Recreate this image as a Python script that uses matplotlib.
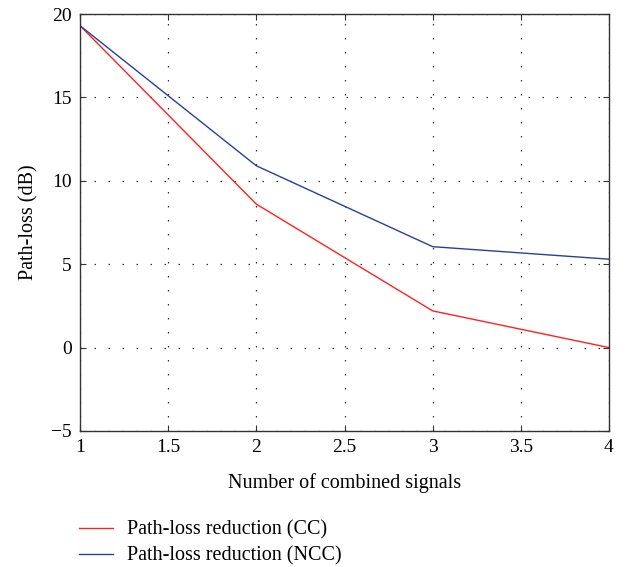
import numpy as np
import matplotlib.pyplot as plt

plt.rcParams['font.family'] = ['Liberation Serif', 'DejaVu Serif']

# Data
n_signals = [1, 2, 3, 4]
loss_cc = [19.3, 8.6, 2.2, 0.0]
loss_ncc = [19.3, 10.9, 6.05, 5.3]

fig = plt.figure(figsize=(6.32, 5.67), dpi=100)
ax = fig.add_axes([0.1266, 0.2399, 0.8370, 0.7354])

l1, = ax.plot(n_signals, loss_cc, color='#ff2020', lw=1.0, label='Path-loss reduction (CC)')
l2, = ax.plot(n_signals, loss_ncc, color='#2a3f9a', lw=1.0, label='Path-loss reduction (NCC)')

ax.set_xlim(1, 4)
ax.set_ylim(-5, 20)
ax.set_xticks([1, 1.5, 2, 2.5, 3, 3.5, 4])
ax.set_xticklabels(['1', '1.5', '2', '2.5', '3', '3.5', '4'])
ax.set_yticks([-5, 0, 5, 10, 15, 20])
ax.set_yticklabels(['\u22125', '0', '5', '10', '15', '20'])
ax.grid(True, linestyle=(0, (1.2, 10)), color='#333333', linewidth=0.9)
ax.tick_params(direction='in', top=True, right=True, labelsize=14, length=4,
               color='#333333', pad=6)
for s in ax.spines.values():
    s.set_color('#333333')
    s.set_linewidth(1.0)

ax.set_xlabel('Number of combined signals', fontsize=14.5, labelpad=12)
ax.set_ylabel('Path-loss (dB)', fontsize=14.5, labelpad=9)

leg = fig.legend(handles=[l1, l2], loc='center left', bbox_to_anchor=(0.112, 0.042),
                 bbox_transform=fig.transFigure, frameon=False, fontsize=14.5,
                 handlelength=1.7, handletextpad=0.7, labelspacing=0.35,
                 borderaxespad=0)

fig.savefig('out.png', dpi=100)
